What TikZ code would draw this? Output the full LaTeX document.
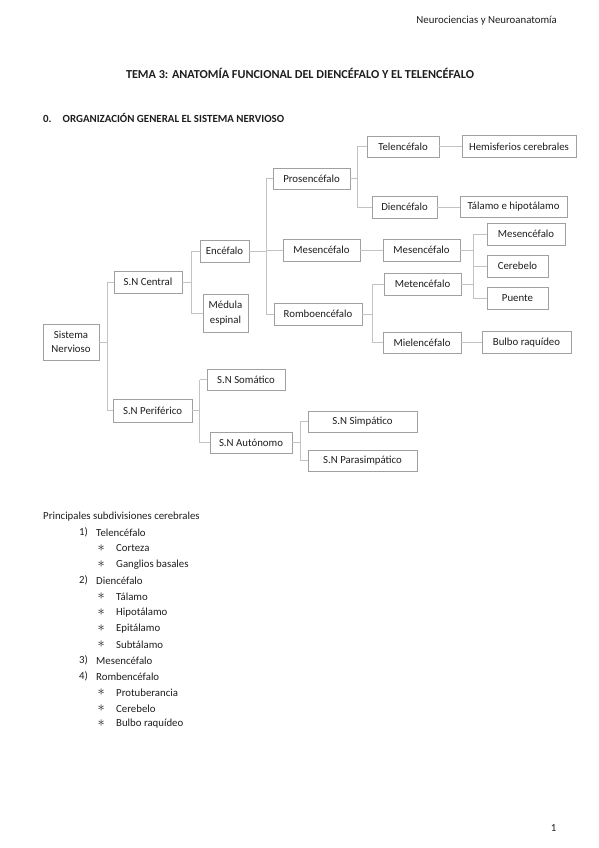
\documentclass[tikz,border=0pt]{standalone}
\usepackage{fontspec}
\setmainfont{Carlito}
\definecolor{boxline}{RGB}{160,160,160}
\definecolor{connline}{RGB}{195,195,195}
\definecolor{ink}{RGB}{30,30,30}
\begin{document}
\begin{tikzpicture}[x=1pt,y=-1pt,
  bx/.style={draw=boxline,line width=0.9pt,inner sep=0pt,font=\fontsize{10.8}{14.5}\selectfont,text=ink,align=center},
  conn/.style={draw=connline,line width=0.9pt},
  txt/.style={inner sep=0pt,text=ink,font=\fontsize{10.8}{13}\selectfont,anchor=west},
  star/.style={inner sep=0pt,text=ink,font=\fontsize{14}{14}\selectfont,anchor=west}]
\useasboundingbox[fill=white] (0,0) rectangle (599,848);
% header texts
\node[inner sep=0pt,anchor=east,text=ink,font=\fontsize{10.8}{13}\selectfont] (hdr) at (557,21) {Neurociencias y Neuroanatomía};
\node[inner sep=0pt,text=ink,font=\fontsize{12.2}{14}\selectfont\bfseries] (title) at (300,73) {TEMA 3: ANATOMÍA FUNCIONAL DEL DIENCÉFALO Y EL TELENCÉFALO};
\node[inner sep=0pt,anchor=west,text=ink,font=\fontsize{10.9}{13}\selectfont\bfseries] (sec) at (43,117.5) {0.\hspace{11pt}ORGANIZACIÓN GENERAL EL SISTEMA NERVIOSO};
% boxes
\node[bx,minimum width=56pt,minimum height=36pt] (SN) at (71,342) {Sistema\\Nervioso};
\node[bx,minimum width=68pt,minimum height=22pt] (SNC) at (148,282) {S.N Central};
\node[bx,minimum width=49pt,minimum height=22pt] (Enc) at (224.5,251) {Encéfalo};
\node[bx,minimum width=45pt,minimum height=38pt] (Med) at (225.5,313) {Médula\\espinal};
\node[bx,minimum width=77pt,minimum height=21pt] (Pros) at (311.5,178.5) {Prosencéfalo};
\node[bx,minimum width=72pt,minimum height=21pt] (Tel) at (403,146.5) {Telencéfalo};
\node[bx,minimum width=114pt,minimum height=22pt] (Hem) at (519,146.5) {Hemisferios cerebrales};
\node[bx,minimum width=65pt,minimum height=22pt] (Dien) at (404.5,207) {Diencéfalo};
\node[bx,minimum width=107pt,minimum height=21pt] (Tal) at (513.5,207) {Tálamo e hipotálamo};
\node[bx,minimum width=77pt,minimum height=22pt] (MesA) at (321.5,250) {Mesencéfalo};
\node[bx,minimum width=77pt,minimum height=22pt] (MesB) at (421.5,250) {Mesencéfalo};
\node[bx,minimum width=78pt,minimum height=22pt] (MesC) at (526,234) {Mesencéfalo};
\node[bx,minimum width=61pt,minimum height=22pt] (Cer) at (517.5,266) {Cerebelo};
\node[bx,minimum width=61pt,minimum height=22pt] (Pue) at (517.5,298) {Puente};
\node[bx,minimum width=77pt,minimum height=22pt] (Met) at (422.5,284) {Metencéfalo};
\node[bx,minimum width=88pt,minimum height=22pt] (Rom) at (318,314) {Romboencéfalo};
\node[bx,minimum width=78pt,minimum height=21pt] (Mie) at (422,342.5) {Mielencéfalo};
\node[bx,minimum width=89pt,minimum height=22pt] (Bul) at (526.5,342.5) {Bulbo raquídeo};
\node[bx,minimum width=78pt,minimum height=21pt] (Som) at (246,379.5) {S.N Somático};
\node[bx,minimum width=79pt,minimum height=23pt] (Per) at (152.5,410.5) {S.N Periférico};
\node[bx,minimum width=82pt,minimum height=21pt] (Aut) at (251,442.5) {S.N Autónomo};
\node[bx,minimum width=109pt,minimum height=21pt] (Sim) at (362.5,421.5) {S.N Simpático};
\node[bx,minimum width=109pt,minimum height=21pt] (Para) at (362.5,460.5) {S.N Parasimpático};
% trunk coordinates
\coordinate (t1) at (107,0);
\coordinate (t2) at (191,0);
\coordinate (t3) at (266,0);
\coordinate (t4) at (357,0);
\coordinate (t5) at (473,0);
\coordinate (t6) at (372,0);
\coordinate (t7) at (199.5,0);
\coordinate (t8) at (300,0);
% connectors
\draw[conn] (SN.east) -- (SN.east -| t1);
\draw[conn] (t1 |- SNC.west) -- (t1 |- Per.west);
\draw[conn] (t1 |- SNC.west) -- (SNC.west);
\draw[conn] (t1 |- Per.west) -- (Per.west);
\draw[conn] (SNC.east) -- (SNC.east -| t2);
\draw[conn] (t2 |- Enc.west) -- (t2 |- Med.west);
\draw[conn] (t2 |- Enc.west) -- (Enc.west);
\draw[conn] (t2 |- Med.west) -- (Med.west);
\draw[conn] (Enc.east) -- (Enc.east -| t3);
\draw[conn] (t3 |- Pros.west) -- (t3 |- Rom.west);
\draw[conn] (t3 |- Pros.west) -- (Pros.west);
\draw[conn] (t3 |- MesA.west) -- (MesA.west);
\draw[conn] (t3 |- Rom.west) -- (Rom.west);
\draw[conn] (Pros.east) -- (Pros.east -| t4);
\draw[conn] (t4 |- Tel.west) -- (t4 |- Dien.west);
\draw[conn] (t4 |- Tel.west) -- (Tel.west);
\draw[conn] (t4 |- Dien.west) -- (Dien.west);
\draw[conn] (Tel.east) -- (Tel.east -| Hem.west);
\draw[conn] (Dien.east) -- (Dien.east -| Tal.west);
\draw[conn] (MesA.east) -- (MesA.east -| MesB.west);
\draw[conn] (MesB.east) -- (MesB.east -| t5);
\draw[conn] (Met.east) -- (Met.east -| t5);
\draw[conn] (t5 |- MesC.west) -- (t5 |- Pue.west);
\draw[conn] (t5 |- MesC.west) -- (MesC.west);
\draw[conn] (t5 |- Cer.west) -- (Cer.west);
\draw[conn] (t5 |- Pue.west) -- (Pue.west);
\draw[conn] (Rom.east) -- (Rom.east -| t6);
\draw[conn] (t6 |- Met.west) -- (t6 |- Mie.west);
\draw[conn] (t6 |- Met.west) -- (Met.west);
\draw[conn] (t6 |- Mie.west) -- (Mie.west);
\draw[conn] (Mie.east) -- (Mie.east -| Bul.west);
\draw[conn] (Per.east) -- (Per.east -| t7);
\draw[conn] (t7 |- Som.west) -- (t7 |- Aut.west);
\draw[conn] (t7 |- Som.west) -- (Som.west);
\draw[conn] (t7 |- Aut.west) -- (Aut.west);
\draw[conn] (Aut.east) -- (Aut.east -| t8);
\draw[conn] (t8 |- Sim.west) -- (t8 |- Para.west);
\draw[conn] (t8 |- Sim.west) -- (Sim.west);
\draw[conn] (t8 |- Para.west) -- (Para.west);
% list
\node[txt] (l0) at (43,516.5) {Principales subdivisiones cerebrales};
\node[txt] (n1) at (79,532.5) {1)};
\node[txt] (i1) at (96,532.5) {Telencéfalo};
\node[star] (b1) at (97.5,548.5) {$\ast$};
\node[txt] (s1) at (116,548.5) {Corteza};
\node[star] (b2) at (97.5,564.5) {$\ast$};
\node[txt] (s2) at (116,564.5) {Ganglios basales};
\node[txt] (n2) at (79,580.5) {2)};
\node[txt] (i2) at (96,580.5) {Diencéfalo};
\node[star] (b3) at (97.5,596.5) {$\ast$};
\node[txt] (s3) at (116,596.5) {Tálamo};
\node[star] (b4) at (97.5,612.5) {$\ast$};
\node[txt] (s4) at (116,612.5) {Hipotálamo};
\node[star] (b5) at (97.5,628.5) {$\ast$};
\node[txt] (s5) at (116,628.5) {Epitálamo};
\node[star] (b6) at (97.5,644.5) {$\ast$};
\node[txt] (s6) at (116,644.5) {Subtálamo};
\node[txt] (n3) at (79,660.5) {3)};
\node[txt] (i3) at (96,660.5) {Mesencéfalo};
\node[txt] (n4) at (79,676.5) {4)};
\node[txt] (i4) at (96,676.5) {Rombencéfalo};
\node[star] (b7) at (97.5,692.5) {$\ast$};
\node[txt] (s7) at (116,692.5) {Protuberancia};
\node[star] (b8) at (97.5,708.5) {$\ast$};
\node[txt] (s8) at (116,708.5) {Cerebelo};
\node[star] (b9) at (97.5,723.5) {$\ast$};
\node[txt] (s9) at (116,723.5) {Bulbo raquídeo};
\node[txt,anchor=center] (pg) at (553.5,828) {1};
\end{tikzpicture}
\end{document}
